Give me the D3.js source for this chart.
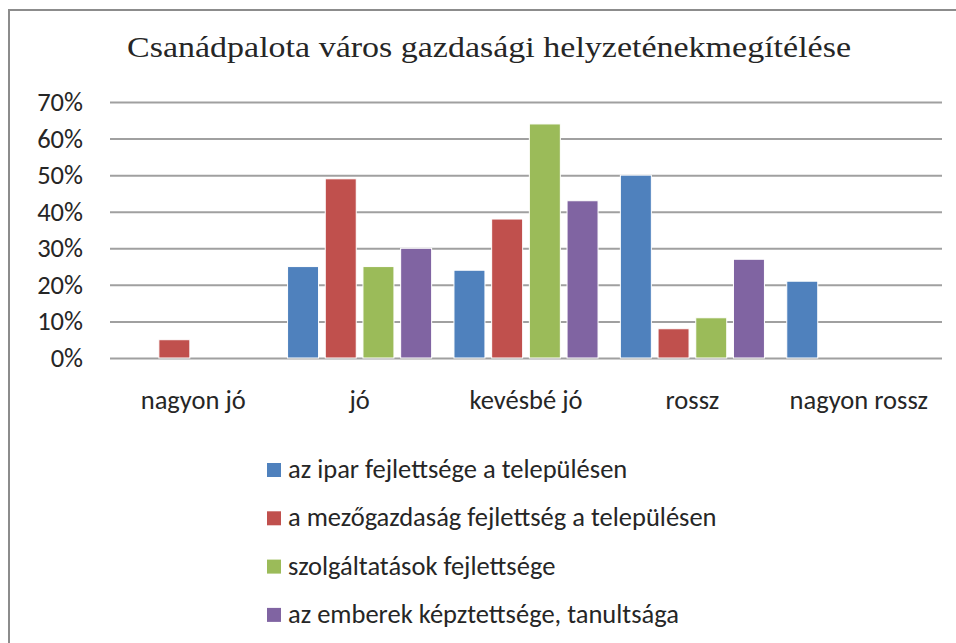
<!DOCTYPE html>
<html>
<head>
<meta charset="utf-8">
<script src="https://cdn.jsdelivr.net/npm/d3@7"></script>
<style>
  body { margin: 0; background: #fff; }
  svg text { fill: #262626; }
</style>
</head>
<body>
<div id="chart"></div>
<script>
const categories = ["nagyon jó", "jó", "kevésbé jó", "rossz", "nagyon rossz"]
const seriesNames = [
    "az ipar fejlettsége a településen",
    "a mezőgazdaság fejlettség a településen",
    "szolgáltatások fejlettsége",
    "az emberek képztettsége, tanultsága"
]
const ipar = [0, 0.25, 0.24, 0.50, 0.21]
const mezogazdasag = [0.05, 0.49, 0.38, 0.08, 0]
const szolgaltatas = [0, 0.25, 0.64, 0.11, 0]
const emberek = [0, 0.30, 0.43, 0.27, 0]
const yTicks = [0, 0.1, 0.2, 0.3, 0.4, 0.5, 0.6, 0.7]
const colors = ["#4f81bd", "#c0504d", "#9bbb59", "#8064a2"]

const values = [ipar, mezogazdasag, szolgaltatas, emberek]
const titleText = "Csanádpalota város gazdasági helyzeténekmegítélése"

const W = 956, H = 643
const margin = ({top: 102, right: 14, bottom: 285, left: 110})
const width = W - margin.left - margin.right
const height = H - margin.top - margin.bottom
const sans = "Carlito, Lato, 'Open Sans', sans-serif"
const fontSize = "26.5px"

const svg = d3.select("#chart").append("svg")
    .attr("width", W)
    .attr("height", H)

// outer frame (cut off at right and bottom)
svg.append("rect")
    .attr("x", 9).attr("y", 10)
    .attr("width", W + 20).attr("height", H + 20)
    .attr("fill", "none")
    .attr("stroke", "#8c8c8c")
    .attr("stroke-width", 2)

svg.append("text")
    .attr("x", 489).attr("y", 57)
    .attr("text-anchor", "middle")
    .style("font-family", "'Liberation Serif', serif")
    .style("font-size", "30px")
    .attr("textLength", 724)
    .attr("lengthAdjust", "spacingAndGlyphs")
    .text(titleText)

const g = svg.append("g")
    .attr("transform", `translate(${margin.left},${margin.top})`)

const x0 = d3.scaleBand().domain(categories).range([0, width])
const x1 = d3.scaleBand().domain(d3.range(seriesNames.length))
    .range([0, x0.bandwidth()])
    .paddingInner(0.178)
    .paddingOuter(0.296)
const y = d3.scaleLinear().domain([0, 0.7]).range([height, 0])

const yAxis = d3.axisLeft(y)
    .tickValues(yTicks)
    .tickSize(-width)
    .tickPadding(27)
    .tickFormat(d3.format(".0%"))

g.append("g")
    .attr("class", "y-axis")
    .call(yAxis)
    .call(a => a.select(".domain").remove())
    .call(a => a.selectAll("line").attr("stroke", "#a0a0a0").attr("stroke-width", 2))
    .call(a => a.selectAll("text")
        .style("font-family", sans)
        .style("font-size", fontSize)
        .attr("fill", "#262626"))

const xAxis = d3.axisBottom(x0).tickSize(0).tickPadding(32)
g.append("g")
    .attr("class", "x-axis")
    .attr("transform", `translate(0,${height})`)
    .call(xAxis)
    .call(a => a.select(".domain").remove())
    .call(a => a.selectAll("text")
        .style("font-family", sans)
        .style("font-size", fontSize)
        .attr("fill", "#262626"))

const groups = g.selectAll(".cat")
    .data(categories)
    .join("g")
    .attr("class", "cat")
    .attr("transform", d => `translate(${x0(d)},0)`)

groups.selectAll("rect")
    .data((d, i) => values.map((s, k) => ({k, v: s[i]})).filter(e => e.v > 0))
    .join("rect")
    .attr("x", e => x1(e.k))
    .attr("width", x1.bandwidth())
    .attr("y", e => y(e.v))
    .attr("height", e => height - y(e.v))
    .attr("fill", e => colors[e.k])
    .attr("stroke", "#fff")
    .attr("stroke-width", 1)

const legend = svg.append("g")
    .attr("transform", "translate(267,463)")

const item = legend.selectAll("g")
    .data(seriesNames)
    .join("g")
    .attr("transform", (d, i) => `translate(0,${i * 48.3})`)

item.append("rect")
    .attr("width", 14).attr("height", 14)
    .attr("fill", (d, i) => colors[i])

item.append("text")
    .attr("x", 21).attr("y", 15)
    .style("font-family", sans)
    .style("font-size", fontSize)
    .text(d => d)
</script>
</body>
</html>
